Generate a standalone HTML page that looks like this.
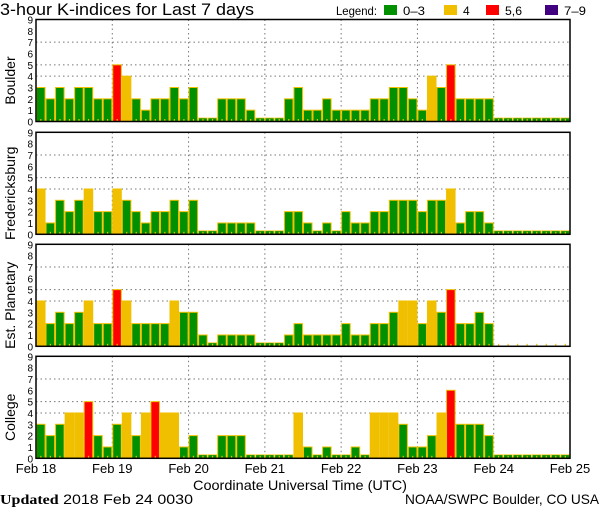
<!DOCTYPE html>
<html><head><meta charset="utf-8"><style>
html,body{margin:0;padding:0;background:#fff}
svg{display:block}
text{font-family:"Liberation Sans",sans-serif}
</style></head><body>
<svg id="c" width="600" height="510" viewBox="0 0 600 510" xmlns="http://www.w3.org/2000/svg">
<text x="0" y="15" font-size="17" textLength="254" lengthAdjust="spacingAndGlyphs">3-hour K-indices for Last 7 days</text>
<g font-size="12">
<text x="336" y="15" textLength="41" lengthAdjust="spacingAndGlyphs">Legend:</text>
<rect x="384" y="5" width="13" height="10" fill="#009000"/>
<text x="403" y="15" textLength="22" lengthAdjust="spacingAndGlyphs">0–3</text>
<rect x="444" y="5" width="13" height="10" fill="#f0c000"/>
<text x="463" y="15">4</text>
<rect x="486" y="5" width="13" height="10" fill="#ff0000"/>
<text x="505" y="15" textLength="17" lengthAdjust="spacingAndGlyphs">5,6</text>
<rect x="545" y="5" width="13" height="10" fill="#400080"/>
<text x="564" y="15" textLength="22" lengthAdjust="spacingAndGlyphs">7–9</text>
</g>
<text x="193" y="490" font-size="14" textLength="214" lengthAdjust="spacingAndGlyphs">Coordinate Universal Time (UTC)</text>
<text x="0" y="504" font-size="14" textLength="193" lengthAdjust="spacingAndGlyphs"><tspan font-weight="bold" font-family="Liberation Serif, serif">Updated</tspan> 2018 Feb 24 0030</text>
<text x="405" y="504" font-size="14" textLength="194" lengthAdjust="spacingAndGlyphs">NOAA/SWPC Boulder, CO USA</text>
</svg>
<script>
const days = ["Feb 18","Feb 19","Feb 20","Feb 21","Feb 22","Feb 23","Feb 24","Feb 25"];
const stations = ["Boulder","Fredericksburg","Est. Planetary","College"];
const yTicks = [0,1,2,3,4,5,6,7,8,9];
const boulder = [3,2,3,2,3,3,2,2, 5,4,2,1,2,2,3,2, 3,0,0,2,2,2,1,0, 0,0,2,3,1,1,2,1, 1,1,1,2,2,3,3,2, 1,4,3,5,2,2,2,2, 0,0,0,0,0,0,0,0];
const fredericksburg = [4,1,3,2,3,4,2,2, 4,3,2,1,2,2,3,2, 3,0,0,1,1,1,1,0, 0,0,2,2,1,0,1,0, 2,1,1,2,2,3,3,3, 2,3,3,4,1,2,2,1, 0,0,0,0,0,0,0,0];
const planetary = [4,2,3,2,3,4,2,2, 5,4,2,2,2,2,4,3, 3,1,0,1,1,1,1,0, 0,0,1,2,1,1,1,1, 2,1,1,2,2,3,4,4, 2,4,3,5,2,2,3,2, null,null,null,null,null,null,null,null];
const college = [3,2,3,4,4,5,2,1, 3,4,2,4,5,4,4,1, 2,0,0,2,2,2,0,0, 0,0,0,4,1,0,1,0, 0,1,0,4,4,4,3,1, 1,2,4,6,3,3,3,2, 0,0,0,0,0,0,0,0];
const series = [boulder, fredericksburg, planetary, college];

const NS="http://www.w3.org/2000/svg";
const svg=document.getElementById('c');
const X0=36, X1=570, NB=56;
const panelTops=[19.5,132.3,244.3,356.3], PH=102;
function xScale(i){return X0+(X1-X0)*i/NB;}
function mk(tag,attrs,parent){const e=document.createElementNS(NS,tag);for(const k in attrs)e.setAttribute(k,attrs[k]);(parent||svg).appendChild(e);return e;}
function color(v){return v<=3?"#009000":v===4?"#f0c000":v<=6?"#ff0000":"#400080";}

series.forEach((data,p)=>{
  const top=panelTops[p], bot=top+PH;
  const y=v=>bot-PH*v/9;
  const g=mk('g',{});
  
  
  [4,5,7].forEach(t=>{
    const l=mk('line',{x1:X0,x2:X1,y1:y(t),y2:y(t),stroke:'#777','stroke-dasharray':'1.5,3','stroke-width':1},g);
    
    
  });
  for(let d=1;d<days.length-1;d++){
    const xx=xScale(d*8);
    const l=mk('line',{x1:xx,x2:xx,y1:top,y2:bot,stroke:'#777','stroke-dasharray':'1.5,3','stroke-width':1},g);
    
    
  }
  data.forEach((v,i)=>{
    const x=xScale(i), w=xScale(i+1)-x;
    if(v!==null){
      const h=Math.max(PH*v/9,3.5);
      const r=mk('rect',{x:x+0.5,y:bot-h,width:w-1,height:h,fill:color(v),stroke:'#f0c000','stroke-width':(v===0?0.7:1)},g);
      
      
    }
    const tk=mk('rect',{x:x+w/2-0.5,y:bot-2.5,width:1.2,height:2.5,fill:'#f0c000'},g);
    
    
  });
  const fr=mk('rect',{x:X0,y:top,width:X1-X0,height:PH,fill:'none',stroke:'#000','stroke-width':1.5},g);
  
  
  yTicks.forEach(t=>{
    const tx=mk('text',{x:33,y:y(t)+4,'font-size':10,'text-anchor':'end'},g);
    tx.textContent=t;
    
    
  });
  const cy=top+PH/2+10;
  const lab=mk('text',{x:0,y:0,'font-size':14,'text-anchor':'middle',transform:`translate(15,${cy}) rotate(-90)`},g);
  lab.textContent=stations[p];
  
  
});
days.forEach((d,i)=>{
  const t=mk('text',{x:xScale(i*8),y:473,'font-size':13,'text-anchor':'middle'});
  t.textContent=d;
  
  
});
</script>
</body></html>
